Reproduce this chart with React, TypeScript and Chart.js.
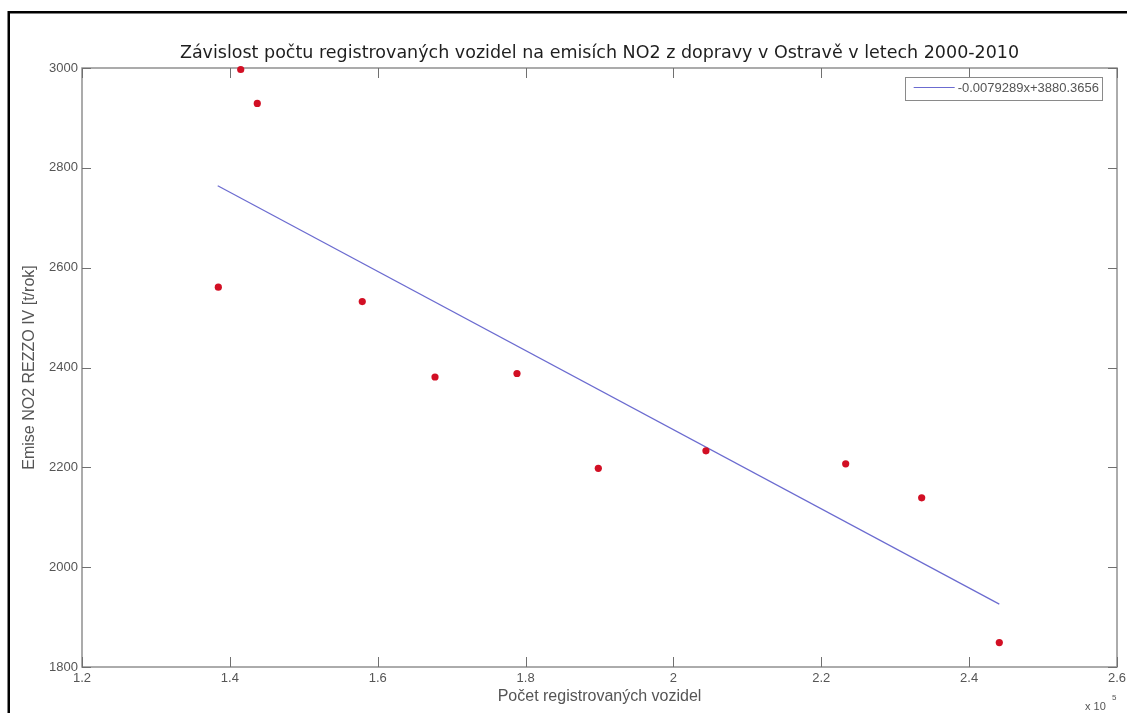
import React, { useEffect, useRef } from 'react';
import { Chart, registerables } from 'chart.js';

Chart.register(...registerables);

// Registered vehicles (x) and NO2 emissions REZZO IV [t/rok] (y), 2000-2010
const vehicles = [138440, 141470, 143710, 157910, 167750, 178840, 189840, 204400, 223300, 233580, 244080];
const emissions = [2561, 2997, 2929, 2532, 2381, 2388, 2198, 2233, 2207, 2139, 1849];

// Linear fit endpoints as drawn
const fitX = [138360, 244080];
const fitY = [2764, 1926];
const fitLabel = '-0.0079289x+3880.3656';

const xTickValues = [120000, 140000, 160000, 180000, 200000, 220000, 240000, 260000];
const yTickValues = [1800, 2000, 2200, 2400, 2600, 2800, 3000];

const titleText = 'Závislost počtu registrovaných vozidel na emisích NO2 z dopravy v Ostravě v letech 2000-2010';
const xTitle = 'Počet registrovaných vozidel';
const yTitle = 'Emise NO2 REZZO IV [t/rok]';

const W = 1127;
const H = 713;

const framePlugin = {
  id: 'matlabFrame',
  beforeDraw(chart: any) {
    const ctx = chart.ctx;
    ctx.save();
    ctx.fillStyle = '#ffffff';
    ctx.fillRect(0, 0, chart.width, chart.height);
    ctx.strokeStyle = '#000000';
    ctx.lineWidth = 2.5;
    ctx.beginPath();
    ctx.moveTo(8.75, chart.height);
    ctx.lineTo(8.75, 12.25);
    ctx.lineTo(chart.width, 12.25);
    ctx.stroke();
    ctx.restore();
  },
  beforeDatasetsDraw(chart: any) {
    const { ctx, chartArea } = chart;
    const xs = chart.scales.x;
    const ys = chart.scales.y;
    ctx.save();
    ctx.strokeStyle = '#909090';
    ctx.lineWidth = 1.5;
    ctx.strokeRect(chartArea.left, chartArea.top, chartArea.right - chartArea.left, chartArea.bottom - chartArea.top);
    ctx.strokeStyle = '#707070';
    ctx.lineWidth = 1;
    ctx.beginPath();
    xs.ticks.forEach((t: any) => {
      const px = Math.round(xs.getPixelForValue(t.value)) + 0.5;
      ctx.moveTo(px, chartArea.bottom);
      ctx.lineTo(px, chartArea.bottom - 10);
      ctx.moveTo(px, chartArea.top);
      ctx.lineTo(px, chartArea.top + 10);
    });
    ys.ticks.forEach((t: any) => {
      const py = Math.round(ys.getPixelForValue(t.value)) + 0.5;
      ctx.moveTo(chartArea.left, py);
      ctx.lineTo(chartArea.left + 9, py);
      ctx.moveTo(chartArea.right, py);
      ctx.lineTo(chartArea.right - 9, py);
    });
    ctx.stroke();
    ctx.restore();
  },
  afterDatasetsDraw(chart: any) {
    const { ctx, chartArea } = chart;
    ctx.save();
    ctx.font = '13px "Liberation Sans", Arial, sans-serif';
    const tw = ctx.measureText(fitLabel).width;
    const boxW = tw + 56;
    const boxH = 23;
    const right = chartArea.right - 15;
    const top = chartArea.top + 9;
    const left = right - boxW;
    ctx.fillStyle = '#ffffff';
    ctx.fillRect(left, top, boxW, boxH);
    ctx.strokeStyle = '#8a8a8a';
    ctx.lineWidth = 1;
    ctx.strokeRect(Math.round(left) + 0.5, top + 0.5, Math.round(boxW), boxH);
    const cy = top + boxH / 2;
    ctx.strokeStyle = '#6b6bd0';
    ctx.lineWidth = 1.2;
    ctx.beginPath();
    ctx.moveTo(left + 9, cy - 1);
    ctx.lineTo(left + 50, cy - 1);
    ctx.stroke();
    ctx.fillStyle = '#555555';
    ctx.textBaseline = 'middle';
    ctx.textAlign = 'left';
    ctx.fillText(fitLabel, left + 53, cy);
    // x10^5 exponent label
    ctx.fillStyle = '#555555';
    ctx.textBaseline = 'alphabetic';
    ctx.font = '11px "Liberation Sans", Arial, sans-serif';
    ctx.fillText('x 10', chartArea.right - 32, chartArea.bottom + 43);
    ctx.font = '8px "Liberation Sans", Arial, sans-serif';
    ctx.fillText('5', chartArea.right - 5, chartArea.bottom + 33);
    ctx.restore();
  },
};

export default function App() {
  const ref = useRef<HTMLCanvasElement | null>(null);

  useEffect(() => {
    if (!ref.current) return;
    const chart = new Chart(ref.current, {
      type: 'scatter',
      data: {
        datasets: [
          {
            label: 'data',
            data: vehicles.map((v, i) => ({ x: v, y: emissions[i] })),
            backgroundColor: '#d20f24',
            borderColor: '#d20f24',
            pointRadius: 3.6,
            pointBorderWidth: 0,
            showLine: false,
            clip: false,
            order: 1,
          },
          {
            label: fitLabel,
            type: 'line',
            data: fitX.map((v, i) => ({ x: v, y: fitY[i] })),
            borderColor: '#6b6bd0',
            borderWidth: 1.2,
            pointRadius: 0,
            fill: false,
            order: 2,
          },
        ],
      },
      options: {
        responsive: false,
        animation: false,
        layout: { padding: { left: 0, right: 10, top: 0, bottom: 0 } },
        plugins: {
          legend: { display: false },
          tooltip: { enabled: false },
          title: {
            display: true,
            fullSize: false,
            text: titleText,
            color: '#1e1e1e',
            font: { family: '"DejaVu Sans", Verdana, sans-serif', size: 17.5, weight: 'normal' },
            padding: { top: 43, bottom: 4 },
          },
        },
        scales: {
          x: {
            type: 'linear',
            min: 120000,
            max: 260000,
            afterBuildTicks: (s: any) => {
              s.ticks = xTickValues.map((v) => ({ value: v }));
            },
            afterFit: (s: any) => {
              s.height = 46;
              s.paddingRight = 0;
              s.paddingLeft = 0;
            },
            grid: { display: false, drawTicks: false },
            border: { display: false },
            ticks: {
              padding: 4,
              color: '#555555',
              font: { family: '"Liberation Sans", Arial, sans-serif', size: 13 },
              callback: (v: any) => String(Number((Number(v) / 100000).toFixed(1))),
              maxRotation: 0,
            },
            title: {
              display: true,
              text: xTitle,
              color: '#555555',
              font: { family: '"Liberation Sans", Arial, sans-serif', size: 16 },
              padding: { top: 0, bottom: 7 },
            },
          },
          y: {
            type: 'linear',
            min: 1800,
            max: 3000,
            afterBuildTicks: (s: any) => {
              s.ticks = yTickValues.map((v) => ({ value: v }));
            },
            afterFit: (s: any) => {
              s.width = 82;
              s.paddingTop = 0;
              s.paddingBottom = 0;
            },
            grid: { display: false, drawTicks: false },
            border: { display: false },
            ticks: {
              padding: 4,
              color: '#555555',
              font: { family: '"Liberation Sans", Arial, sans-serif', size: 13 },
              callback: (v: any) => String(v),
            },
            title: {
              display: true,
              text: yTitle,
              color: '#555555',
              font: { family: '"Liberation Sans", Arial, sans-serif', size: 16 },
              padding: { top: 20, bottom: 0 },
            },
          },
        },
      },
      plugins: [framePlugin],
    });
    return () => chart.destroy();
  }, []);

  return (
    <div style={{ position: 'absolute', left: 0, top: 0, width: W, height: H, background: '#fff' }}>
      <canvas ref={ref} width={W} height={H} style={{ display: 'block', width: W, height: H }} />
    </div>
  );
}
